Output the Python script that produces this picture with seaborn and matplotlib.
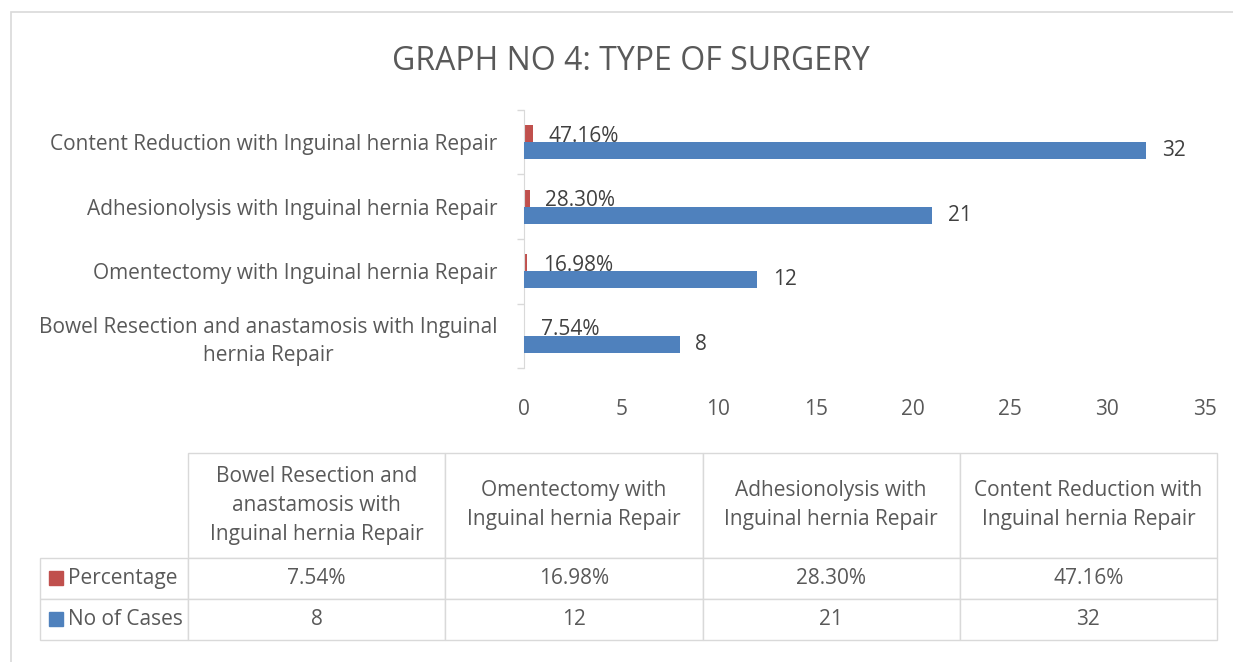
import textwrap
import pandas as pd
import seaborn as sns
import matplotlib.pyplot as plt
from matplotlib.patches import Rectangle

# data
categories = [
    "Bowel Resection and anastamosis with Inguinal hernia Repair",
    "Omentectomy with Inguinal hernia Repair",
    "Adhesionolysis with Inguinal hernia Repair",
    "Content Reduction with Inguinal hernia Repair",
]
no_of_cases = [8, 12, 21, 32]
percentage = [0.0754, 0.1698, 0.2830, 0.4716]
series_names = ["Percentage", "No of Cases"]
series_colors = ["#C0504D", "#4F81BD"]
x_ticks = [0, 5, 10, 15, 20, 25, 30, 35]
title = "GRAPH NO 4: TYPE OF SURGERY"

df = pd.DataFrame({
    "Surgery": categories + categories,
    "Series": [series_names[0]] * len(categories) + [series_names[1]] * len(categories),
    "Value": percentage + no_of_cases,
})

sns.set_style("white")
plt.rcParams["font.family"] = ["Open Sans", "DejaVu Sans"]
text_col = "#595959"
grid_col = "#D9D9D9"
fs = 15

fig = plt.figure(figsize=(12.33, 6.62), dpi=100)
ax = fig.add_axes([0.425, 0.444, 0.552, 0.390])

# Excel puts the first category at the bottom
sns.barplot(data=df, y="Surgery", x="Value", hue="Series",
            order=categories[::-1], hue_order=series_names,
            palette=series_colors, saturation=1, width=0.53,
            linewidth=0, legend=False, ax=ax)

# the blue bars cover the lower part of the percentage labels, as in Excel
for bar in ax.containers[1]:
    bar.set_zorder(3)
pct_labels = ax.bar_label(ax.containers[0], fmt="{:.2%}", padding=11,
                          fontsize=fs, color="#404040", zorder=2)
for t in pct_labels:
    t.set_verticalalignment("center_baseline")
ax.bar_label(ax.containers[1], fmt="{:.0f}", padding=11, fontsize=fs,
             color="#404040", zorder=4)

ax.set_xlim(0, 35)
ax.set_xticks(x_ticks)
ax.set_xlabel("")
ax.set_ylabel("")
ax.set_yticks(range(len(categories)),
              [textwrap.fill(c, 46) for c in categories[::-1]])
for lbl in ax.get_yticklabels():
    lbl.set_multialignment("center")
    lbl.set_linespacing(1.4)
ax.set_yticks([i - 0.5 for i in range(len(categories) + 1)], minor=True)
ax.tick_params(axis="y", which="major", left=False, length=0, pad=19,
               labelsize=fs, labelcolor=text_col)
ax.tick_params(axis="y", which="minor", left=True, length=5, color=grid_col,
               width=1)
ax.tick_params(axis="x", length=0, pad=22, labelsize=fs, labelcolor=text_col)
for side in ["top", "right", "bottom"]:
    ax.spines[side].set_visible(False)
ax.spines["left"].set_color(grid_col)

fig.text(0.512, 0.907, title, ha="center", va="center", fontsize=23,
         color=text_col)

# data table under the chart; first column holds the series names
tax = fig.add_axes([0.0324, 0.0332, 0.9546, 0.2825])
tax.axis("off")
cell_text = [[series_names[0]] + [f"{p:.2%}" for p in percentage],
             [series_names[1]] + [str(n) for n in no_of_cases]]
tbl = tax.table(cellText=cell_text,
                colLabels=[""] + [textwrap.fill(c, 22) for c in categories],
                cellLoc="center", bbox=[0, 0, 1, 1])
tbl.auto_set_font_size(False)
tbl.set_fontsize(fs)
row_h = [104, 41, 41]
for (r, c), cell in tbl.get_celld().items():
    cell.set_edgecolor(grid_col)
    cell.set_linewidth(1)
    cell.set_width(148 if c == 0 else 257)
    cell.set_height(row_h[r])
    cell.get_text().set_color(text_col)
    if c == 0:
        cell.PAD = 0.19
        cell.get_text().set_horizontalalignment("left")
        if r == 0:
            cell.visible_edges = "open"
    if r == 0:
        cell.get_text().set_linespacing(1.5)

# legend keys in the series name cells
total_h = sum(row_h)
for i, col in enumerate(series_colors):
    yc = (total_h - row_h[0] - row_h[1] * i - row_h[1] / 2) / total_h
    tax.add_patch(Rectangle((9 / 1177, yc - 7 / total_h), 14 / 1177, 14 / total_h,
                            color=col, transform=tax.transAxes, zorder=5))

# light outer border of the chart area
fig.add_artist(Rectangle((11 / 1233, -0.01), 1.0, 1 - 12 / 662 + 0.01,
                         transform=fig.transFigure, fill=False,
                         edgecolor=grid_col, linewidth=1.2))

fig.savefig("out.png", dpi=100)
